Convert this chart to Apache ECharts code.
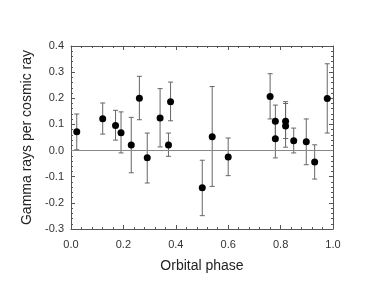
<!DOCTYPE html>
<html><head><meta charset="utf-8">
<script src="https://cdn.jsdelivr.net/npm/echarts@6/dist/echarts.min.js"></script>
<style>html,body{margin:0;padding:0;background:#fff}#c{width:367px;height:294px}</style>
</head><body><div id="c"></div>
<script>
const phase = [0.022,0.121,0.170,0.191,0.230,0.261,0.291,0.340,0.372,0.380,0.501,0.539,0.600,0.760,0.780,0.780,0.819,0.819,0.850,0.898,0.930,0.978];
const value = [0.072,0.122,0.096,0.068,0.021,0.200,-0.027,0.125,0.021,0.187,-0.142,0.053,-0.025,0.207,0.112,0.045,0.112,0.094,0.038,0.034,-0.044,0.199];
const lower = [0.003,0.063,0.040,-0.009,-0.085,0.118,-0.124,0.014,-0.022,0.114,-0.249,-0.137,-0.096,0.121,0.050,-0.028,0.046,0.013,-0.009,-0.054,-0.109,0.067];
const upper = [0.140,0.182,0.154,0.148,0.127,0.284,0.067,0.237,0.067,0.262,-0.037,0.245,0.048,0.294,0.174,0.110,0.180,0.187,0.086,0.121,0.022,0.332];
const xTicks = [0,0.2,0.4,0.6,0.8,1.0];
const yTicks = [-0.3,-0.2,-0.1,0,0.1,0.2,0.3,0.4];

const pts = phase.map((p,i)=>[p,value[i]]);
const bars = phase.map((p,i)=>[p,lower[i],upper[i]]);
const font = 'Liberation Sans, Arial, sans-serif';
const axCol = '#555';
const common = () => ({
  axisLine:{show:true,onZero:false,lineStyle:{color:axCol,width:1}},
  axisTick:{show:true,inside:true,length:4,lineStyle:{color:axCol}},
  minorTick:{show:true,splitNumber:5,length:2,lineStyle:{color:axCol}},
  splitLine:{show:false}
});
const chart = echarts.init(document.getElementById('c'),null,{renderer:'canvas'});
chart.setOption({
  animation:false,
  grid:{left:71,right:34,top:46,bottom:65,containLabel:false},
  xAxis:[
    Object.assign({type:'value',min:xTicks[0],max:xTicks[xTicks.length-1],interval:0.2,position:'bottom',
      name:'Orbital phase',nameLocation:'middle',nameGap:30,
      nameTextStyle:{fontFamily:font,fontSize:14,color:'#222'},
      axisLabel:{fontFamily:font,fontSize:11,color:'#333',margin:10,formatter:v=>v.toFixed(1)}},common()),
    Object.assign({type:'value',min:xTicks[0],max:xTicks[xTicks.length-1],interval:0.2,position:'top',axisLabel:{show:false}},common())
  ],
  yAxis:[
    Object.assign({type:'value',min:yTicks[0],max:yTicks[yTicks.length-1],interval:0.1,position:'left',
      name:'Gamma rays per cosmic ray',nameLocation:'middle',nameGap:37,
      nameTextStyle:{fontFamily:font,fontSize:14,color:'#222'},
      axisLabel:{fontFamily:font,fontSize:11,color:'#333',margin:7,formatter:v=>v.toFixed(1)}},common()),
    Object.assign({type:'value',min:yTicks[0],max:yTicks[yTicks.length-1],interval:0.1,position:'right',axisLabel:{show:false}},common())
  ],
  series:[
    {type:'custom',data:bars,z:2,
     renderItem:function(params,api){
       const x=api.value(0);
       const lo=api.coord([x,api.value(1)]);
       const hi=api.coord([x,api.value(2)]);
       const w=2.5;
       const st={stroke:'#666',lineWidth:1};
       return {type:'group',children:[
         {type:'line',shape:{x1:lo[0],y1:lo[1],x2:hi[0],y2:hi[1]},style:st},
         {type:'line',shape:{x1:lo[0]-w,y1:lo[1],x2:lo[0]+w,y2:lo[1]},style:st},
         {type:'line',shape:{x1:hi[0]-w,y1:hi[1],x2:hi[0]+w,y2:hi[1]},style:st}
       ]};
     }},
    {type:'scatter',data:pts,symbol:'circle',symbolSize:7,z:3,
     itemStyle:{color:'#000',opacity:1},
     markLine:{silent:true,symbol:'none',label:{show:false},
       lineStyle:{color:'#888',width:1,type:'solid'},data:[{yAxis:0}]}}
  ]
});
</script></body></html>
